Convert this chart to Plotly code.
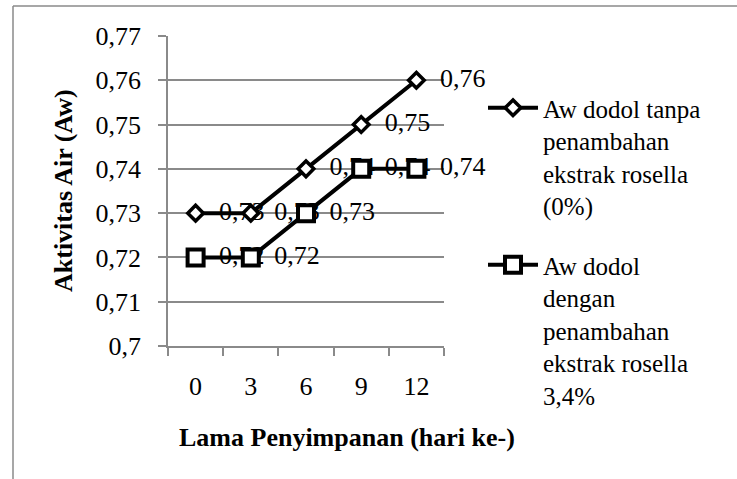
import plotly.graph_objects as go

# ---- data ----
days = ["0", "3", "6", "9", "12"]
aw_control = [0.73, 0.73, 0.74, 0.75, 0.76]
aw_rosella = [0.72, 0.72, 0.73, 0.74, 0.74]
series_names = [
    "Aw dodol tanpa<br>penambahan<br>ekstrak rosella<br>(0%)",
    "Aw dodol<br>dengan<br>penambahan<br>ekstrak rosella<br>3,4%",
]
y_ticks = [0.70, 0.71, 0.72, 0.73, 0.74, 0.75, 0.76, 0.77]
x_title = "Lama Penyimpanan (hari ke-)"
y_title = "Aktivitas Air (Aw)"
top_fragment = "(0%)"

# ---- layout geometry (pixels) ----
W, H = 737, 479
L, R, T, B = 168, 444, 36, 346
pw, ph = R - L, B - T
def px(x):
    return (x - L) / pw
def py(y):
    return (B - y) / ph

FONT = "Liberation Serif, Times New Roman, serif"
FS = 26
LFS = 25
GRAY = "#8a8a8a"

fig = go.Figure()

# data labels first (drawn beneath lines/markers)
for vals in (aw_control, aw_rosella):
    fig.add_trace(go.Scatter(
        x=days, y=vals, mode="markers+text",
        marker=dict(size=36, opacity=0),
        texttemplate="%{y:.2f}", textposition="middle right",
        textfont=dict(family=FONT, size=FS, color="black"),
        cliponaxis=False, showlegend=False, hoverinfo="skip",
    ))

fig.add_trace(go.Scatter(
    x=days, y=aw_control, mode="lines+markers", name=series_names[0],
    legend="legend",
    line=dict(color="black", width=4),
    marker=dict(symbol="diamond", size=12, color="white",
                line=dict(color="black", width=3.5)),
    cliponaxis=False,
))
fig.add_trace(go.Scatter(
    x=days, y=aw_rosella, mode="lines+markers", name=series_names[1],
    legend="legend2",
    line=dict(color="black", width=4),
    marker=dict(symbol="square", size=16, color="white",
                line=dict(color="black", width=4)),
    cliponaxis=False,
))

legend_common = dict(
    xanchor="left", yanchor="top", itemwidth=50,
    font=dict(family=FONT, size=LFS, color="black"),
    valign="top", bgcolor="rgba(0,0,0,0)", borderwidth=0,
)

fig.update_layout(
    width=W, height=H,
    margin=dict(l=L, r=W - R, t=T, b=H - B, pad=0, autoexpand=False),
    paper_bgcolor="white", plot_bgcolor="white",
    separators=", ",
    font=dict(family=FONT, size=FS, color="black"),
    showlegend=True,
    legend=dict(x=px(483), y=py(85), **legend_common),
    legend2=dict(x=px(483), y=py(242), **legend_common),
    xaxis=dict(
        type="category", range=[-0.5, len(days) - 0.5],
        showgrid=False, showline=True, linecolor=GRAY,
        linewidth=1.5, ticks="outside", tickson="boundaries", ticklen=8,
        tickcolor=GRAY, tickwidth=1.5, ticklabelstandoff=16,
        tickfont=dict(family=FONT, size=FS),
    ),
    yaxis=dict(
        range=[0.7, 0.77], tickvals=y_ticks, tickformat=".2~f",
        showgrid=True, gridcolor=GRAY, gridwidth=1.5,
        showline=True, linecolor=GRAY, linewidth=1.5,
        ticks="outside", ticklen=8, tickcolor=GRAY, tickwidth=1.5,
        ticklabelstandoff=12, zeroline=False,
        tickfont=dict(family=FONT, size=FS),
    ),
    annotations=[
        dict(text="<b>%s</b>" % x_title, xref="paper", yref="paper",
             x=px(347), y=py(437), xanchor="center", yanchor="middle",
             showarrow=False, font=dict(family=FONT, size=FS)),
        dict(text="<b>%s</b>" % y_title, xref="paper", yref="paper",
             x=px(63), y=0.5, xanchor="center", yanchor="middle",
             textangle=-90, showarrow=False, font=dict(family=FONT, size=FS)),
        dict(text=top_fragment, xref="paper", yref="paper",
             x=px(267), y=py(-15), xanchor="center", yanchor="middle",
             showarrow=False, font=dict(family=FONT, size=FS)),
    ],
    shapes=[
        dict(type="line", xref="paper", yref="paper", x0=px(13), y0=py(6),
             x1=px(W + 5), y1=py(6), line=dict(color=GRAY, width=1.5)),
        dict(type="line", xref="paper", yref="paper", x0=px(13), y0=py(6),
             x1=px(13), y1=py(H + 5), line=dict(color=GRAY, width=1.5)),
    ],
)

fig.write_html("out.html", config={"displayModeBar": False},
               post_script="document.body.style.margin='0';")
